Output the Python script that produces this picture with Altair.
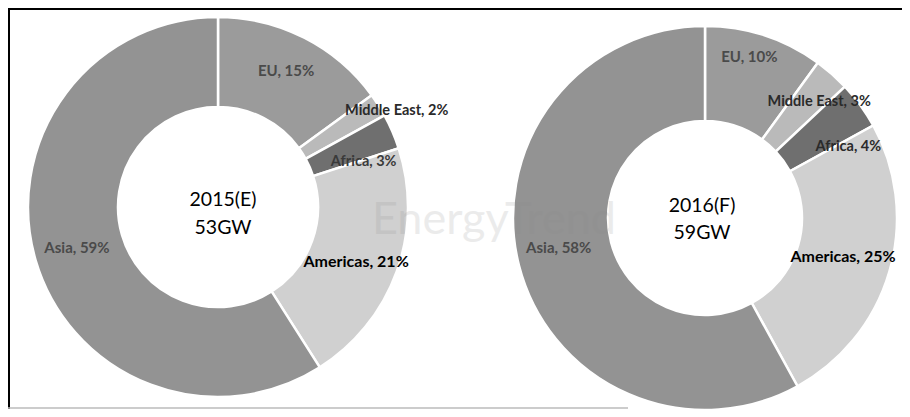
import altair as alt
import pandas as pd

# ---- data ----
regions = ["EU", "Middle East", "Africa", "Americas", "Asia"]
share_2015 = [15, 2, 3, 21, 59]
share_2016 = [10, 3, 4, 25, 58]
center_2015 = ["2015(E)", "53GW"]
center_2016 = ["2016(F)", "59GW"]
watermark = "EnergyTrend"

colors = ["#9b9b9b", "#bababa", "#6f6f6f", "#d0d0d0", "#939393"]

W, H = 894, 401
FONT = "Lato"


def frame(shares):
    return pd.DataFrame({
        "region": regions,
        "share": shares,
        "idx": list(range(len(regions))),
        "label": [f"{r}, {s}%" for r, s in zip(regions, shares)],
    })


color_enc = alt.Color("region:N", scale=alt.Scale(domain=regions, range=colors), legend=None)


def donut(shares, cx, cy, inner, outer, label_tweaks, center_lines, center_pos):
    df = frame(shares)
    base = alt.Chart(df)
    theta = alt.Theta("share:Q", stack=True)
    order = alt.Order("idx:O")
    layers = [
        base.mark_arc(innerRadius=inner, outerRadius=outer, stroke="white", strokeWidth=2.5).encode(
            theta=theta, order=order, color=color_enc, x=alt.value(cx), y=alt.value(cy)
        )
    ]
    for reg, (dx, dy, size, fill) in label_tweaks.items():
        layers.append(
            base.mark_text(radius=150, dx=dx, dy=dy, font=FONT, fontSize=size,
                           fontWeight="bold", fill=fill).encode(
                theta=theta, order=order,
                text=alt.condition(alt.FieldEqualPredicate(field="region", equal=reg),
                                   "label:N", alt.value("")),
                x=alt.value(cx), y=alt.value(cy)
            )
        )
    (tx, ty1, ty2) = center_pos
    cdf = pd.DataFrame({"t": center_lines, "line": [0, 1]})
    for i, ty in enumerate([ty1, ty2]):
        layers.append(
            alt.Chart(cdf).transform_filter(alt.datum.line == i).mark_text(
                font=FONT, fontSize=19.5, color="black").encode(
                text="t:N", x=alt.value(tx), y=alt.value(ty)
            )
        )
    return layers


left = donut(
    share_2015, 210, 199, 100, 190,
    {
        "EU": (0, -2, 15, "#4a4a4a"),
        "Middle East": (52, -16, 14.5, "#2a2a2a"),
        "Africa": (8, 15, 14.5, "#3a3a3a"),
        "Americas": (-3, 4, 16, "black"),
        "Asia": (3, -1, 15, "#4a4a4a"),
    },
    center_2015, (215, 192, 220),
)

right = donut(
    share_2016, 697, 210, 97, 192,
    {
        "EU": (-2, -18, 15, "#4a4a4a"),
        "Middle East": (15, -3, 14.5, "#2a2a2a"),
        "Africa": (22, 17, 14.5, "#2a2a2a"),
        "Americas": (-6, -3, 16, "black"),
        "Asia": (-1, -7, 15, "#4a4a4a"),
    },
    center_2016, (694, 198, 225),
)

one = pd.DataFrame({"k": [0]})
wm = alt.Chart(pd.DataFrame({"t": [watermark]})).mark_text(
    font=FONT, fontSize=45, color="#8a8a8a", opacity=0.16).encode(
    text="t:N", x=alt.value(486), y=alt.value(212))

top_rule = alt.Chart(one).mark_rule(color="black", strokeWidth=2).encode(
    x=alt.value(0), x2=alt.value(W), y=alt.value(1))
left_rule = alt.Chart(one).mark_rule(color="black", strokeWidth=2).encode(
    x=alt.value(1), y=alt.value(0), y2=alt.value(H))
bottom_rule = alt.Chart(one).mark_rule(color="#bbbbbb", strokeWidth=1.5).encode(
    x=alt.value(0), x2=alt.value(620), y=alt.value(H - 1))

chart = alt.layer(
    *(left[:1] + right[:1]), wm, *(left[1:] + right[1:]), top_rule, left_rule, bottom_rule
).properties(
    width=W, height=H, padding=0, autosize=alt.AutoSizeParams(type="none")
).configure_view(stroke=None)

chart.save("out.html", embed_options={"renderer": "svg", "actions": False})
